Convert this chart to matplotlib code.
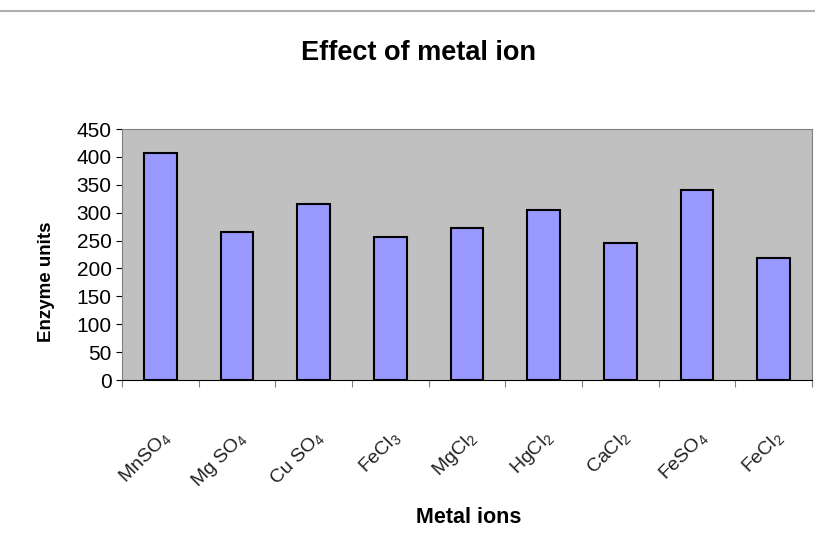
import matplotlib.pyplot as plt

plt.rcParams['font.family'] = ['Liberation Sans', 'DejaVu Sans']
plt.rcParams['mathtext.fontset'] = 'custom'
plt.rcParams['mathtext.rm'] = 'Liberation Sans'
plt.rcParams['mathtext.default'] = 'rm'

ions = ["MnSO$_4$", "Mg SO$_4$", "Cu SO$_4$", "FeCl$_3$", "MgCl$_2$",
        "HgCl$_2$", "CaCl$_2$", "FeSO$_4$", "FeCl$_2$"]
units = [407, 265, 315, 256, 272, 305, 245, 340, 218]

fig = plt.figure(figsize=(8.15, 5.53), dpi=100)
ax = fig.add_axes([0.1497, 0.3128, 0.8466, 0.4539])
ax.set_facecolor("#c0c0c0")

pos = list(range(len(units)))
ax.bar(pos, units, width=0.43, color="#9999ff", edgecolor="black", linewidth=1.5)

ax.set_xlim(-0.5, len(units) - 0.5)
ax.set_ylim(0, 450)
ax.set_yticks(range(0, 451, 50))
ax.tick_params(axis="y", labelsize=15, length=4, direction="out")

# category ticks sit on the boundaries, labels centred under bars
ax.set_xticks([p - 0.5 for p in pos] + [len(units) - 0.5])
ax.set_xticklabels([])
ax.tick_params(axis="x", length=5, direction="out", color="#808080")
ax.set_xticks(pos, minor=True)
ax.set_xticklabels(ions, minor=True, rotation=45, ha="right", rotation_mode="anchor",
                   fontsize=14, color="#222222")
ax.tick_params(axis="x", which="minor", length=0, pad=34)

for side in ["top", "right"]:
    ax.spines[side].set_color("#808080")
ax.spines["bottom"].set_color("black")
ax.spines["left"].set_color("#808080")

fig.text(0.513, 0.905, "Effect of metal ion", ha="center", va="center",
         fontsize=19.5, fontweight="bold")
fig.text(0.057, 0.49, "Enzyme units", ha="center", va="center", rotation=90,
         fontsize=13.5, fontweight="bold")
fig.text(0.575, 0.065, "Metal ions", ha="center", va="center",
         fontsize=15.5, fontweight="bold")

fig.add_artist(plt.Line2D([0, 1], [0.98, 0.98], color="#b0b0b0", linewidth=1.5))

fig.savefig("out.png", dpi=100)
